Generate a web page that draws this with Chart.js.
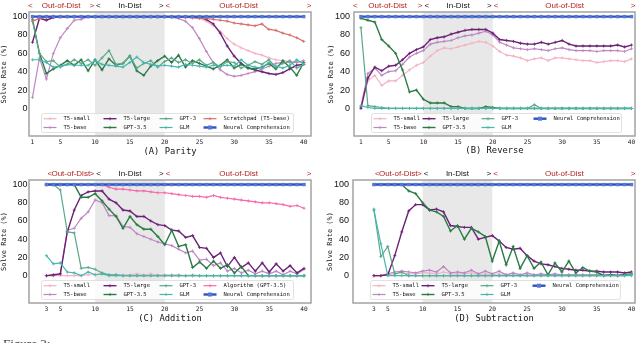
<!DOCTYPE html>
<html><head><meta charset="utf-8">
<script src="https://cdn.jsdelivr.net/npm/chart.js@4.4.1/dist/chart.umd.min.js"></script>
<style>
html,body{margin:0;padding:0;background:#fff;width:640px;height:343px;overflow:hidden;position:relative}
canvas{position:absolute}
#fig{position:absolute;left:3px;top:337px;font:13px "Liberation Serif",serif;color:#444;line-height:14px}
</style></head><body>
<canvas id="cA" width="320" height="165" style="left:0;top:0;width:320px;height:165px"></canvas>
<canvas id="cB" width="320" height="165" style="left:320px;top:0;width:320px;height:165px"></canvas>
<canvas id="cC" width="320" height="165" style="left:0;top:168px;width:320px;height:165px"></canvas>
<canvas id="cD" width="320" height="165" style="left:320px;top:168px;width:320px;height:165px"></canvas>
<div id="fig">Figure 3:</div>
<script>
// ---------- categories / ticks ----------
const parityX = [1,2,3,4,5,6,7,8,9,10,11,12,13,14,15,16,17,18,19,20,21,22,23,24,25,26,27,28,29,30,31,32,33,34,35,36,37,38,39,40];
const reverseX = [1,2,3,4,5,6,7,8,9,10,11,12,13,14,15,16,17,18,19,20,21,22,23,24,25,26,27,28,29,30,31,32,33,34,35,36,37,38,39,40];
const additionX = [3,4,5,6,7,8,9,10,11,12,13,14,15,16,17,18,19,20,21,22,23,24,25,26,27,28,29,30,31,32,33,34,35,36,37,38,39,40];
const subtractionX = [3,4,5,6,7,8,9,10,11,12,13,14,15,16,17,18,19,20,21,22,23,24,25,26,27,28,29,30,31,32,33,34,35,36,37,38,39,40];
const parityTicks = [1,5,10,15,20,25,30,35,40];
const arithTicks = [3,5,10,15,20,25,30,35,40];
const yTicks = [0,20,40,60,80,100];
const inDistRange = [10,20];

// ---------- (A) Parity ----------
const parityT5Small = [95,98,100,100,100,100,100,100,100,100,100,100,100,100,100,100,100,100,100,100,100,99,99,98,98,95,90,84,76,70,66,63,60,58,55,53,52,51,51,50];
const parityT5Base  = [12,55,32,60,77,87,96,97,100,100,100,100,100,100,100,100,100,100,100,100,99,98,95,88,76,62,50,42,37,35,36,38,40,43,46,49,50,50,50,52];
const parityT5Large = [72,98,96,99,100,100,100,100,100,100,100,100,100,100,100,100,100,100,100,100,100,100,100,100,99,97,92,82,68,57,49,44,42,40,38,37,39,43,47,48];
const parityGPT35   = [97,60,38,43,47,52,47,53,41,53,42,54,47,49,57,41,36,46,52,57,50,58,45,52,49,46,43,47,53,44,48,44,43,45,49,43,52,45,36,50];
const parityGPT3    = [95,60,51,52,45,48,53,49,53,47,55,63,48,49,57,44,49,52,45,51,55,50,53,49,53,47,50,45,51,50,44,47,51,48,53,45,49,52,44,48];
const parityGLM     = [53,53,50,45,46,48,47,47,47,52,48,47,46,45,50,56,50,48,46,47,46,45,48,47,46,45,47,46,47,46,53,47,45,44,50,46,44,47,53,48];
const parityScratch = [95,98,99,100,100,100,100,100,100,100,100,100,100,100,100,100,100,100,100,100,100,100,99,99,98,98,97,96,95,93,92,91,90,92,86,85,82,80,77,73];
const parityNeural  = [100,100,100,100,100,100,100,100,100,100,100,100,100,100,100,100,100,100,100,100,100,100,100,100,100,100,100,100,100,100,100,100,100,100,100,100,100,100,100,100];

// ---------- (B) Reverse ----------
const reverseT5Small = [1,30,36,25,30,30,36,42,47,50,57,63,66,65,67,69,71,73,72,68,62,58,57,55,52,54,55,52,55,55,54,53,52,52,50,51,52,52,51,54];
const reverseT5Base  = [2,38,44,36,40,41,48,56,60,63,70,72,73,74,77,79,80,82,84,80,72,69,66,65,64,65,64,63,65,66,64,63,63,63,62,63,63,63,62,65];
const reverseT5Large = [0,33,45,41,46,47,53,60,64,67,75,77,78,81,83,85,86,86,86,82,75,74,73,71,70,70,72,70,72,74,70,68,68,68,68,68,68,69,67,69];
const reverseGPT35   = [98,96,94,75,68,60,42,18,20,10,6,6,6,2,2,0,0,0,2,1,0,0,0,0,0,0,0,0,0,0,0,0,0,0,0,0,0,0,0,0];
const reverseGPT3    = [88,3,2,1,0,0,0,0,0,0,0,0,0,0,0,0,0,0,0,0,0,0,0,0,0,4,0,0,0,0,0,0,0,0,0,0,0,0,0,0];
const reverseGLM     = [3,1,0,0,0,0,0,0,0,0,0,0,0,0,0,0,0,0,0,0,0,0,0,0,0,0,0,0,0,0,0,0,0,0,0,0,0,0,0,0];
const reverseNeural  = [100,100,100,100,100,100,100,100,100,100,100,100,100,100,100,100,100,100,100,100,100,100,100,100,100,100,100,100,100,100,100,100,100,100,100,100,100,100,100,100];

// ---------- (C) Addition ----------
const additionT5Small = [0,0,0,0,0,0,1,1,2,1,1,1,1,2,1,2,1,1,1,1,0,1,0,0,0,0,0,0,0,0,0,0,0,0,0,0,0,0];
const additionT5Base  = [0,0,2,50,52,63,70,83,80,66,66,54,53,46,43,40,37,35,33,29,25,27,17,18,11,14,5,8,3,6,2,5,2,5,1,5,2,7];
const additionT5Large = [0,1,2,48,72,88,92,93,93,84,80,72,71,65,65,60,56,55,50,49,42,44,31,30,20,25,10,20,9,14,5,14,4,13,5,11,3,8];
const additionGPT35   = [100,100,100,100,100,86,86,90,82,73,65,52,65,56,51,51,43,34,50,32,34,9,15,8,16,8,12,3,10,0,0,0,0,0,0,0,0,0];
const additionGPT3    = [100,100,94,48,47,8,9,7,3,1,1,0,0,0,0,0,0,0,0,0,0,0,0,0,0,0,0,0,0,0,0,0,0,0,0,0,0,0];
const additionGLM     = [22,13,14,4,3,0,4,1,2,0,0,0,0,0,0,0,0,0,0,0,0,0,0,0,0,0,0,0,0,0,0,0,0,0,0,0,0,0];
const additionAlgo    = [100,100,100,100,100,100,100,100,100,97,95,95,94,93,93,92,91,91,90,89,88,87,87,86,88,86,85,84,83,82,81,80,80,79,78,76,77,74];
const additionNeural  = [100,100,100,100,100,100,100,100,100,100,100,100,100,100,100,100,100,100,100,100,100,100,100,100,100,100,100,100,100,100,100,100,100,100,100,100,100,100];

// ---------- (D) Subtraction ----------
const subtractionT5Small = [0,0,1,2,3,2,2,3,3,2,4,2,2,2,3,1,2,1,2,1,2,1,1,1,1,1,1,1,1,1,1,1,1,1,1,1,1,1];
const subtractionT5Base  = [0,0,2,4,5,4,3,5,6,4,10,3,4,3,6,2,5,2,5,1,3,1,3,1,2,1,2,1,1,1,1,1,1,1,1,1,1,1];
const subtractionT5Large = [0,0,1,22,48,71,78,78,72,73,70,55,54,53,53,40,42,44,38,31,29,30,22,16,13,12,10,8,7,6,6,5,5,4,4,4,3,4];
const subtractionGPT35   = [100,100,100,100,100,93,90,80,72,70,65,49,55,40,52,48,43,16,38,12,32,8,22,8,15,1,14,4,16,3,9,5,4,0,1,0,1,2];
const subtractionGPT3    = [73,21,32,2,4,0,0,0,0,0,0,0,0,0,0,0,0,0,0,0,0,0,0,0,0,0,0,0,0,0,0,0,0,0,0,0,0,2];
const subtractionGLM     = [72,35,0,0,0,0,0,0,0,0,0,0,0,0,0,0,0,0,0,0,0,0,0,0,0,0,0,0,0,0,0,0,0,0,0,0,0,0];
const subtractionNeural  = [100,100,100,100,100,100,100,100,100,100,100,100,100,100,100,100,100,100,100,100,100,100,100,100,100,100,100,100,100,100,100,100,100,100,100,100,100,100];

// ---------- styles ----------
const STYLE = {
  'T5-small':             {c:'#f4b3c4', w:1.2, m:'cross', r:1.6},
  'T5-base':              {c:'#bd86c2', w:1.2, m:'cross', r:1.6},
  'T5-large':             {c:'#6c2176', w:1.4, m:'cross', r:1.6},
  'GPT-3.5':              {c:'#2b7a45', w:1.4, m:'cross', r:1.6},
  'GPT-3':                {c:'#5ba88b', w:1.2, m:'cross', r:1.6},
  'GLM':                  {c:'#45b7ad', w:1.2, m:'cross', r:1.6},
  'Scratchpad (T5-base)': {c:'#d66f68', w:1.2, m:'cross', r:1.6},
  'Algorithm (GPT-3.5)':  {c:'#f66aa7', w:1.2, m:'cross', r:1.6},
  'Neural Comprehension': {c:'#2f52bd', w:2.4, m:'rect',  r:2.4, pc:'#5577d8'}
};
const MONO = '"DejaVu Sans Mono", monospace';
const SANS = '"Liberation Sans", Arial, sans-serif';
const RED = '#b3231f';

const bandPlugin = {
  id:'band',
  beforeDatasetsDraw(chart){
    const {ctx, chartArea:a, scales:{x}} = chart;
    const x0 = x.getPixelForValue(inDistRange[0]), x1 = x.getPixelForValue(inDistRange[1]);
    ctx.save();
    ctx.fillStyle = 'rgba(190,190,190,0.36)';
    ctx.fillRect(x0, a.top, x1 - x0, a.bottom - a.top);
    ctx.restore();
  }
};

const decoPlugin = {
  id:'deco',
  afterDraw(chart, args, o){
    const {ctx, chartArea:a, scales:{x}} = chart;
    ctx.save();
    // frame
    ctx.strokeStyle = '#a3a3a3'; ctx.lineWidth = 1.5;
    ctx.strokeRect(a.left, a.top, a.right - a.left, a.bottom - a.top);
    // top region labels
    ctx.font = '8px ' + SANS; ctx.textBaseline = 'middle';
    const ty = a.top - 6.5;
    o.regions.forEach(r => {
      const xl = r.lo === null ? a.left - 1 : x.getPixelForValue(r.lo) + 1;
      const xr = r.hi === null ? a.right + 0.5 : x.getPixelForValue(r.hi) - 1;
      ctx.fillStyle = r.color;
      ctx.textAlign = 'left'; ctx.fillText('<', xl, ty);
      ctx.textAlign = 'right'; ctx.fillText('>', xr, ty);
      ctx.textAlign = 'center'; ctx.fillText(r.text, (xl + xr) / 2, ty);
    });
    // legend box
    const L = o.legend;
    const bx = a.left + L.dx, by = a.bottom - 22.5, bw = L.w, bh = 19;
    ctx.fillStyle = 'rgba(255,255,255,0.85)';
    ctx.strokeStyle = '#d9d9d9'; ctx.lineWidth = 0.8;
    ctx.beginPath();
    if (ctx.roundRect) ctx.roundRect(bx, by, bw, bh, 2); else ctx.rect(bx, by, bw, bh);
    ctx.fill(); ctx.stroke();
    ctx.font = '5.5px ' + MONO; ctx.textAlign = 'left'; ctx.textBaseline = 'middle';
    chart.data.datasets.forEach((ds, i) => {
      const col = Math.floor(i / 2), row = i % 2;
      const hx = bx + L.cols[col], hy = by + (row ? 14 : 5.2);
      ctx.strokeStyle = ds.borderColor; ctx.lineWidth = ds.borderWidth;
      ctx.beginPath(); ctx.moveTo(hx, hy); ctx.lineTo(hx + 13, hy); ctx.stroke();
      const mx = hx + 6.5;
      if (ds.pointStyle === 'rect') {
        ctx.fillStyle = ds.pointBackgroundColor; ctx.fillRect(mx - 2, hy - 2, 4, 4);
      } else {
        ctx.lineWidth = 0.8; ctx.beginPath();
        ctx.moveTo(mx - 1.6, hy); ctx.lineTo(mx + 1.6, hy);
        ctx.moveTo(mx, hy - 1.6); ctx.lineTo(mx, hy + 1.6); ctx.stroke();
      }
      ctx.fillStyle = '#111';
      ctx.fillText(ds.label, hx + 20, hy + 0.3);
    });
    ctx.restore();
  }
};

function makeChart(id, P){
  const n = P.series.length;
  const datasets = P.series.map(([label, vals], i) => {
    const s = STYLE[label];
    return {
      label,
      data: P.xs.map((xv, k) => ({x: xv, y: vals[k]})),
      borderColor: s.c, backgroundColor: s.c, borderWidth: s.w,
      pointStyle: s.m, pointRadius: s.r, pointHoverRadius: s.r,
      pointBorderWidth: s.m === 'rect' ? 0 : 0.8,
      pointBackgroundColor: s.pc || s.c, pointBorderColor: s.pc || s.c,
      tension: 0, fill: false, order: n - i
    };
  });
  new Chart(document.getElementById(id), {
    type: 'line',
    data: {datasets},
    plugins: [bandPlugin, decoPlugin],
    options: {
      responsive: false, animation: false, devicePixelRatio: 1,
      layout: {padding: {top: 12, right: P.padRight, left: 0, bottom: 0}},
      plugins: {
        legend: {display: false}, tooltip: {enabled: false},
        deco: {regions: P.regions, legend: P.legend}
      },
      scales: {
        x: {
          type: 'linear', min: P.xmin, max: P.xmax,
          grid: {display: false, drawTicks: false}, border: {display: false},
          ticks: {autoSkip: false, maxRotation: 0, padding: 2.5, color: '#222',
                  font: {family: MONO, size: 6.2}},
          afterBuildTicks: s => { s.ticks = P.xTicks.map(v => ({value: v})); },
          afterFit: s => { s.height = P.xh; },
          title: {display: true, text: P.xTitle, color: '#111',
                  font: {family: MONO, size: 8.8}, padding: {top: 0, bottom: P.xTitlePad}}
        },
        y: {
          min: -30, max: 105,
          grid: {display: false, drawTicks: false}, border: {display: false},
          ticks: {padding: P.yTickPad, color: '#111', font: {family: SANS, size: 9}},
          afterBuildTicks: s => { s.ticks = yTicks.map(v => ({value: v})); },
          afterFit: s => { s.width = P.yw; },
          title: {display: true, text: 'Solve Rate (%)', color: '#111',
                  font: {family: MONO, size: 7}, padding: {top: P.yTitlePad, bottom: 0}}
        }
      }
    }
  });
}

const regionsWide = [
  {lo: null, hi: 10, text: 'Out-of-Dist', color: RED},
  {lo: 10, hi: 20, text: 'In-Dist', color: '#111'},
  {lo: 20, hi: null, text: 'Out-of-Dist', color: RED}
];
const regionsArith = [
  {lo: 3, hi: 10, text: 'Out-of-Dist', color: RED},
  {lo: 10, hi: 20, text: 'In-Dist', color: '#111'},
  {lo: 20, hi: null, text: 'Out-of-Dist', color: RED}
];
const legendLeft = {dx: 12.5, w: 252, cols: [2, 62, 118, 162]};
const legendRight = {dx: 17.5, w: 250, cols: [2, 51, 110, 162]};

makeChart('cA', {
  xs: parityX, xTicks: parityTicks, xmin: 0.5, xmax: 41.05, xTitle: '(A) Parity',
  yw: 29, xh: 29, padRight: 9, xTitlePad: 8.1, yTickPad: 1.5, yTitlePad: 0.3,
  regions: regionsWide, legend: legendLeft,
  series: [['T5-small', parityT5Small], ['T5-base', parityT5Base], ['T5-large', parityT5Large],
           ['GPT-3.5', parityGPT35], ['GPT-3', parityGPT3], ['GLM', parityGLM],
           ['Scratchpad (T5-base)', parityScratch], ['Neural Comprehension', parityNeural]]
});
makeChart('cB', {
  xs: reverseX, xTicks: parityTicks, xmin: 0, xmax: 40.5, xTitle: '(B) Reverse',
  yw: 34, xh: 29, padRight: 5, xTitlePad: 8.8, yTickPad: 4, yTitlePad: 7.3,
  regions: regionsWide, legend: legendRight,
  series: [['T5-small', reverseT5Small], ['T5-base', reverseT5Base], ['T5-large', reverseT5Large],
           ['GPT-3.5', reverseGPT35], ['GPT-3', reverseGPT3], ['GLM', reverseGLM],
           ['Neural Comprehension', reverseNeural]]
});
makeChart('cC', {
  xs: additionX, xTicks: arithTicks, xmin: 0.5, xmax: 41, xTitle: '(C) Addition',
  yw: 29, xh: 30, padRight: 9, xTitlePad: 9.3, yTickPad: 1.5, yTitlePad: 0,
  regions: regionsArith, legend: legendLeft,
  series: [['T5-small', additionT5Small], ['T5-base', additionT5Base], ['T5-large', additionT5Large],
           ['GPT-3.5', additionGPT35], ['GPT-3', additionGPT3], ['GLM', additionGLM],
           ['Algorithm (GPT-3.5)', additionAlgo], ['Neural Comprehension', additionNeural]]
});
makeChart('cD', {
  xs: subtractionX, xTicks: arithTicks, xmin: 0, xmax: 40.5, xTitle: '(D) Subtraction',
  yw: 33, xh: 30, padRight: 5, xTitlePad: 8.8, yTickPad: 4, yTitlePad: 5.6,
  regions: regionsArith, legend: legendRight,
  series: [['T5-small', subtractionT5Small], ['T5-base', subtractionT5Base], ['T5-large', subtractionT5Large],
           ['GPT-3.5', subtractionGPT35], ['GPT-3', subtractionGPT3], ['GLM', subtractionGLM],
           ['Neural Comprehension', subtractionNeural]]
});
</script>
</body></html>
